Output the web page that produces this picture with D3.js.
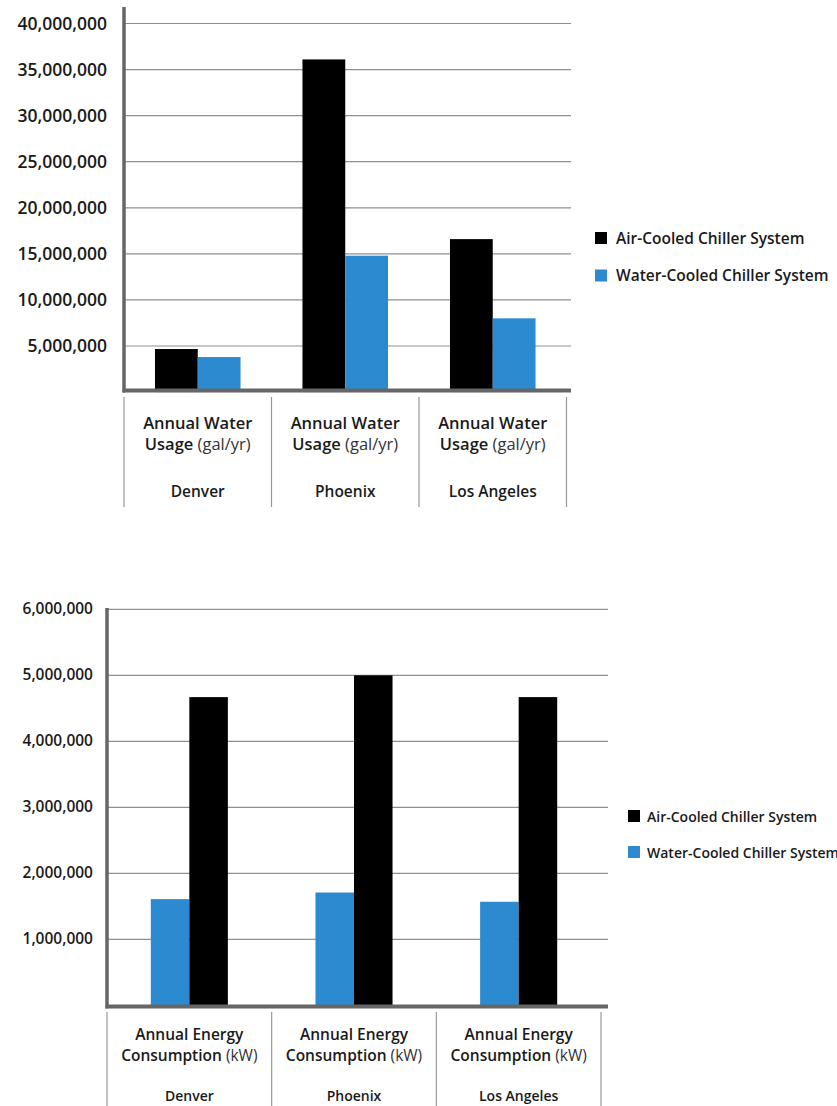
<!DOCTYPE html>
<html>
<head>
<meta charset="utf-8">
<script src="https://cdn.jsdelivr.net/npm/d3@7"></script>
<style>
  html, body { margin: 0; padding: 0; background: #fff; overflow: hidden; }
  svg { display: block; font-family: "Open Sans", "Noto Sans", sans-serif; }
</style>
</head>
<body>
<svg id="chart" width="837" height="1106"></svg>
<script>
// ---- Data ----
const cities = ["Denver", "Phoenix", "Los Angeles"];
const seriesNames = ["Air-Cooled Chiller System", "Water-Cooled Chiller System"];
const seriesColors = ["#000000", "#2b8ad0"];

// Chart 1: Annual Water Usage (gal/yr)
const waterAirCooled = [4670000, 36100000, 16600000];
const waterWaterCooled = [3800000, 14800000, 8000000];
const waterTicks = [5000000, 10000000, 15000000, 20000000, 25000000, 30000000, 35000000, 40000000];
const waterLabelLine1 = "Annual Water";
const waterLabelLine2a = "Usage";
const waterLabelLine2b = " (gal/yr)";

// Chart 2: Annual Energy Consumption (kW)
const energyAirCooled = [4670000, 5000000, 4670000];
const energyWaterCooled = [1610000, 1710000, 1570000];
const energyTicks = [1000000, 2000000, 3000000, 4000000, 5000000, 6000000];
const energyLabelLine1 = "Annual Energy";
const energyLabelLine2a = "Consumption";
const energyLabelLine2b = " (kW)";

const svg = d3.select("#chart");
const fmt = d3.format(",");

function drawChart(cfg) {
  const g = svg.append("g");
  const y = d3.scaleLinear().domain(cfg.yDomain).range(cfg.yRange);
  const x0 = d3.scaleBand().domain(cities).range(cfg.xRange)
    .paddingInner(cfg.padInner).paddingOuter(cfg.padInner / 2);
  const x1 = d3.scaleBand().domain(cfg.order).range([0, x0.bandwidth()]);

  // gridlines
  g.selectAll("line.grid").data(cfg.ticks).enter().append("line")
    .attr("x1", cfg.axisX).attr("x2", cfg.gridEnd)
    .attr("y1", d => y(d)).attr("y2", d => y(d))
    .attr("stroke", "#8f8f8f").attr("stroke-width", 1.2);

  // tick labels
  g.selectAll("text.tick").data(cfg.ticks).enter().append("text")
    .attr("x", cfg.labelX).attr("y", d => y(d) + cfg.tickDy)
    .attr("text-anchor", "end")
    .attr("font-size", cfg.tickSize).attr("font-weight", 600)
    .attr("fill", "#1a1a1a")
    .text(d => fmt(d));

  // bars
  const rows = cities.map((c, i) => ({ city: c, vals: cfg.order.map(s => ({ s, v: cfg.values[s][i] })) }));
  const grp = g.selectAll("g.city").data(rows).enter().append("g")
    .attr("transform", d => `translate(${x0(d.city)},0)`);
  grp.selectAll("rect").data(d => d.vals).enter().append("rect")
    .attr("x", d => x1(d.s)).attr("width", x1.bandwidth())
    .attr("y", d => y(d.v)).attr("height", d => y(0) - y(d.v))
    .attr("fill", d => seriesColors[seriesNames.indexOf(d.s)]);

  // axes
  g.append("line").attr("x1", cfg.axisX).attr("x2", cfg.axisX)
    .attr("y1", cfg.axisTop).attr("y2", cfg.baseY + 2)
    .attr("stroke", "#666").attr("stroke-width", 3.5);
  g.append("line").attr("x1", cfg.axisX - 1.5).attr("x2", cfg.gridEnd)
    .attr("y1", cfg.baseY).attr("y2", cfg.baseY)
    .attr("stroke", "#666").attr("stroke-width", 4);

  // category separators
  const seps = cities.map(c => x0(c) - x0.step() * x0.paddingInner() / 2);
  seps.push(seps[2] + x0.step());
  g.selectAll("line.sep").data(seps).enter().append("line")
    .attr("x1", d => d).attr("x2", d => d)
    .attr("y1", cfg.sepTop).attr("y2", cfg.sepBottom)
    .attr("stroke", "#999").attr("stroke-width", 1.2);

  // category labels
  const lab = g.selectAll("g.lab").data(cities).enter().append("g")
    .attr("transform", d => `translate(${x0(d) + x0.bandwidth() / 2},0)`)
    .attr("text-anchor", "middle").attr("fill", "#1a1a1a");
  lab.append("text").attr("y", cfg.l1Y).attr("font-size", cfg.labSize).attr("font-weight", 600)
    .text(cfg.line1);
  const t2 = lab.append("text").attr("y", cfg.l2Y).attr("font-size", cfg.labSize);
  t2.append("tspan").attr("font-weight", 600).text(cfg.line2a);
  t2.append("tspan").attr("font-weight", 400).attr("fill", "#333").text(cfg.line2b);
  lab.append("text").attr("y", cfg.cityY).attr("font-size", cfg.citySize).attr("font-weight", 600)
    .text(d => d);

  // legend
  const leg = g.selectAll("g.leg").data(seriesNames).enter().append("g")
    .attr("transform", (d, i) => `translate(${cfg.legX},${cfg.legY + i * cfg.legGap})`);
  leg.append("rect").attr("x", 0).attr("y", 0).attr("width", 12).attr("height", 12)
    .attr("fill", (d, i) => seriesColors[i]);
  leg.append("text").attr("x", cfg.legTextDx).attr("y", 11.5)
    .attr("font-size", cfg.legSize).attr("font-weight", 600).attr("fill", "#1a1a1a")
    .text(d => d);
}

drawChart({
  values: { [seriesNames[0]]: waterAirCooled, [seriesNames[1]]: waterWaterCooled },
  order: [seriesNames[0], seriesNames[1]],
  ticks: waterTicks,
  yDomain: [5000000, 40000000], yRange: [346, 23.5],
  xRange: [124, 566.5], padInner: 0.42,
  axisX: 124, axisTop: 7, baseY: 390.5, gridEnd: 571,
  labelX: 107, tickDy: 6, tickSize: 17.5,
  sepTop: 397, sepBottom: 507,
  line1: waterLabelLine1, line2a: waterLabelLine2a, line2b: waterLabelLine2b,
  l1Y: 429, l2Y: 450, cityY: 497, labSize: 16.5, citySize: 15.5,
  legX: 595, legY: 232, legGap: 37.5, legTextDx: 21, legSize: 15.5
});

drawChart({
  values: { [seriesNames[0]]: energyAirCooled, [seriesNames[1]]: energyWaterCooled },
  order: [seriesNames[1], seriesNames[0]],
  ticks: energyTicks,
  yDomain: [1000000, 6000000], yRange: [939.4, 609.3],
  xRange: [107, 601], padInner: 0.532,
  axisX: 107, axisTop: 608, baseY: 1006.5, gridEnd: 608,
  labelX: 93, tickDy: 5, tickSize: 15.5,
  sepTop: 1012, sepBottom: 1106,
  line1: energyLabelLine1, line2a: energyLabelLine2a, line2b: energyLabelLine2b,
  l1Y: 1040, l2Y: 1061, cityY: 1101, labSize: 15.5, citySize: 14,
  legX: 628, legY: 810, legGap: 36, legTextDx: 19, legSize: 14
});
</script>
</body>
</html>
